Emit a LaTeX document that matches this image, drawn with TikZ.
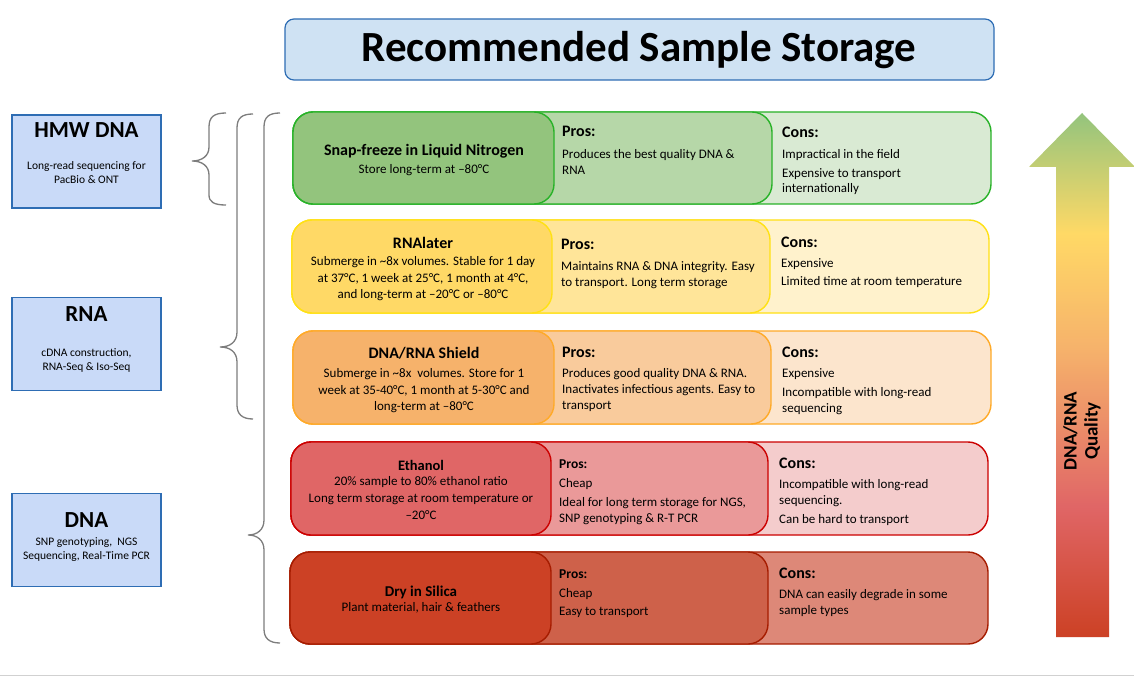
\documentclass[tikz,border=0pt]{standalone}
\usepackage{fontspec}
\setmainfont{Carlito}
\newcommand{\fsz}[2]{\fontsize{#1}{#2}\selectfont}
\definecolor{titlefill}{RGB}{207,226,243}
\definecolor{titledraw}{RGB}{46,109,180}
\definecolor{usefill}{RGB}{201,218,248}
\definecolor{usedraw}{RGB}{46,109,180}
\definecolor{bracegray}{RGB}{125,125,125}
% row 1 green
\definecolor{gL}{RGB}{147,196,125}
\definecolor{gP}{RGB}{182,215,168}
\definecolor{gC}{RGB}{217,234,211}
\definecolor{gB}{RGB}{40,178,40}
% row 2 yellow
\definecolor{yL}{RGB}{255,217,102}
\definecolor{yP}{RGB}{255,229,153}
\definecolor{yC}{RGB}{255,242,204}
\definecolor{yB}{RGB}{255,225,20}
% row 3 orange
\definecolor{oL}{RGB}{246,178,107}
\definecolor{oP}{RGB}{249,203,156}
\definecolor{oC}{RGB}{252,229,205}
\definecolor{oB}{RGB}{255,170,40}
% row 4 red
\definecolor{rL}{RGB}{224,102,102}
\definecolor{rP}{RGB}{234,153,153}
\definecolor{rC}{RGB}{244,204,204}
\definecolor{rB}{RGB}{204,0,0}
% row 5 dark red
\definecolor{dL}{RGB}{204,65,37}
\definecolor{dP}{RGB}{206,97,74}
\definecolor{dC}{RGB}{221,136,120}
\definecolor{dB}{RGB}{166,28,0}
\pgfdeclareverticalshading{qualityshade}{100bp}{%
  color(0bp)=(dL); color(25bp)=(dL); color(37.5bp)=(rL);
  color(52.5bp)=(oL); color(63.5bp)=(yL); color(75bp)=(gL); color(100bp)=(gL)}
\begin{document}
\begin{tikzpicture}[x=1pt,y=-1pt,
  rowbox/.style={line width=1.4pt, rounded corners=20pt, inner sep=0pt},
  usebox/.style={draw=usedraw, fill=usefill, line width=1.3pt, inner sep=0pt,
                 minimum width=149pt, minimum height=93pt},
  bodytxt/.style={inner sep=0pt, align=left, font=\fsz{13}{16}},
  ctrtxt/.style={inner sep=0pt, align=center, font=\fsz{13}{16.5}},
  headtxt/.style={inner sep=0pt, font=\fsz{16}{18}\bfseries},
  smallhead/.style={inner sep=0pt, font=\fsz{13.5}{16}\bfseries},
  usetxt/.style={inner sep=0pt, align=center, font=\fsz{11.5}{14}},
  usehead/.style={inner sep=0pt, font=\fsz{23}{25}\bfseries},
  bracestyle/.style={draw=bracegray, line width=1.3pt}]
\useasboundingbox (0,0) rectangle (1134,676);
\fill[white] (0,0) rectangle (1134,676);
\draw[black!18, line width=1pt] (0,675) -- (1134,675);

% title
\node[draw=titledraw, fill=titlefill, line width=1.2pt, rounded corners=9pt,
      minimum width=709pt, minimum height=61pt, inner sep=0pt] (title) at (639.5,49.5) {};
\node[inner sep=0pt, font=\fsz{43}{45}\bfseries] (titletxt) at (639,50) {Recommended Sample Storage};

% left use boxes
\node[usebox] (hmw) at (86.5,161.5) {};
\node[usehead, anchor=base] (hmwt) at (86.5,138) {HMW DNA};
\node[usetxt, anchor=base] (hmwb) at (86.5,184) {Long-read sequencing for\\PacBio \& ONT};
\node[usebox] (rna) at (86.5,344) {};
\node[usehead, anchor=base] (rnat) at (86.5,321) {RNA};
\node[usetxt, anchor=base] (rnab) at (86.5,370) {cDNA construction,\\RNA-Seq \& Iso-Seq};
\node[usebox] (dna) at (86.5,540) {};
\node[usehead, anchor=base] (dnat) at (86.5,527) {DNA};
\node[usetxt, anchor=base] (dnab) at (86.5,559) {SNP genotyping,~ NGS\\Sequencing, Real-Time PCR};

% braces
\draw[bracestyle] (226,113) .. controls (214,113) and (209,117) .. (209,127) -- (209,147)
  .. controls (209,156) and (202,161) .. (192,161)
  .. controls (202,161) and (209,166) .. (209,175) -- (209,195)
  .. controls (209,202) and (214,205) .. (226,205);
\draw[bracestyle] (253,114) .. controls (242,114) and (237,118) .. (237,128) -- (237,332)
  .. controls (237,342) and (230,347) .. (220,347)
  .. controls (230,347) and (237,352) .. (237,362) -- (237,405)
  .. controls (237,414) and (242,419) .. (253,419);
\draw[bracestyle] (280,113) .. controls (269,113) and (264,117) .. (264,127) -- (264,520)
  .. controls (264,530) and (257,535) .. (248,535)
  .. controls (257,535) and (264,540) .. (264,550) -- (264,629)
  .. controls (264,638) and (269,643) .. (280,643);

% row 1
\node[rowbox, fill=gC, draw=gB, minimum width=698pt, minimum height=92pt] (c1) at (642,158) {};
\node[rowbox, fill=gP, draw=gB, minimum width=479pt, minimum height=92pt] (p1) at (532.5,158) {};
\node[rowbox, fill=gL, draw=gB, minimum width=261pt, minimum height=92pt] (m1) at (423.5,158) {};
\node[headtxt, anchor=base] (m1t) at (424,156) {Snap-freeze in Liquid Nitrogen};
\node[ctrtxt, anchor=base] (m1b) at (424,173.5) {Store long-term at –80°C};
\node[headtxt, anchor=base west] (p1t) at (562,137) {Pros:};
\node[bodytxt, anchor=base west] (p1b) at (562,174.5) {Produces the best quality DNA \&\\RNA};
\node[headtxt, anchor=base west] (c1t) at (782,138) {Cons:};
\node[bodytxt, anchor=base west] (c1a) at (782,158.5) {Impractical in the field};
\node[bodytxt, anchor=base west, font=\fsz{13}{15}] (c1b) at (782,192.5) {Expensive to transport\\internationally};

% row 2
\node[rowbox, fill=yC, draw=yB, minimum width=697pt, minimum height=93pt] (c2) at (640.5,266.5) {};
\node[rowbox, fill=yP, draw=yB, minimum width=478pt, minimum height=93pt] (p2) at (531,266.5) {};
\node[rowbox, fill=yL, draw=yB, minimum width=260pt, minimum height=93pt] (m2) at (422,266.5) {};
\node[headtxt, anchor=base] (m2t) at (423,248.5) {RNAlater};
\node[ctrtxt, anchor=base] (m2b) at (423,298.5) {Submerge in \textasciitilde8x volumes. Stable for 1 day\\at 37°C, 1 week at 25°C, 1 month at 4°C,\\and long-term at –20°C or –80°C};
\node[headtxt, anchor=base west] (p2t) at (561,249.5) {Pros:};
\node[bodytxt, anchor=base west] (p2b) at (561,286.5) {Maintains RNA \& DNA integrity. Easy\\to transport. Long term storage};
\node[headtxt, anchor=base west] (c2t) at (781,247.5) {Cons:};
\node[bodytxt, anchor=base west] (c2a) at (781,267.5) {Expensive};
\node[bodytxt, anchor=base west] (c2b) at (781,285.5) {Limited time at room temperature};

% row 3
\node[rowbox, fill=oC, draw=oB, minimum width=698pt, minimum height=93pt] (c3) at (642,377.5) {};
\node[rowbox, fill=oP, draw=oB, minimum width=478pt, minimum height=93pt] (p3) at (532,377.5) {};
\node[rowbox, fill=oL, draw=oB, minimum width=261pt, minimum height=93pt] (m3) at (423.5,377.5) {};
\node[headtxt, anchor=base] (m3t) at (424,358) {DNA/RNA Shield};
\node[ctrtxt, anchor=base] (m3b) at (424,410.5) {Submerge in \textasciitilde8x~ volumes. Store for 1\\week at 35-40°C, 1 month at 5-30°C and\\long-term at –80°C};
\node[headtxt, anchor=base west] (p3t) at (562,357.5) {Pros:};
\node[bodytxt, anchor=base west] (p3b) at (562,409.5) {Produces good quality DNA \& RNA.\\Inactivates infectious agents. Easy to\\transport};
\node[headtxt, anchor=base west] (c3t) at (782,357.5) {Cons:};
\node[bodytxt, anchor=base west] (c3a) at (782,377.5) {Expensive};
\node[bodytxt, anchor=base west] (c3b) at (782,412.5) {Incompatible with long-read\\sequencing};

% row 4
\node[rowbox, fill=rC, draw=rB, minimum width=697pt, minimum height=93pt] (c4) at (639.5,488.5) {};
\node[rowbox, fill=rP, draw=rB, minimum width=477pt, minimum height=93pt] (p4) at (529.5,488.5) {};
\node[rowbox, fill=rL, draw=rB, minimum width=260pt, minimum height=93pt] (m4) at (421,488.5) {};
\node[inner sep=0pt, font=\fsz{14.5}{16}\bfseries, anchor=base] (m4t) at (421,470) {Ethanol};
\node[ctrtxt, anchor=base] (m4a) at (421,485.5) {20\% sample to 80\% ethanol ratio};
\node[ctrtxt, anchor=base] (m4b) at (421,519) {Long term storage at room temperature or\\–20°C};
\node[smallhead, anchor=base west] (p4t) at (559,468.5) {Pros:};
\node[bodytxt, anchor=base west] (p4a) at (559,487.5) {Cheap};
\node[bodytxt, anchor=base west, font=\fsz{13}{15.5}] (p4b) at (559,522) {Ideal for long term storage for NGS,\\SNP genotyping \& R-T PCR};
\node[headtxt, anchor=base west] (c4t) at (779,468.5) {Cons:};
\node[bodytxt, anchor=base west, font=\fsz{13}{15.5}] (c4a) at (779,504) {Incompatible with long-read\\sequencing.};
\node[bodytxt, anchor=base west] (c4b) at (779,523.5) {Can be hard to transport};

% row 5
\node[rowbox, fill=dC, draw=dB, minimum width=698pt, minimum height=92pt] (c5) at (639,598) {};
\node[rowbox, fill=dP, draw=dB, minimum width=478pt, minimum height=92pt] (p5) at (529,598) {};
\node[rowbox, fill=dL, draw=dB, minimum width=261pt, minimum height=92pt] (m5) at (420.5,598) {};
\node[inner sep=0pt, font=\fsz{15}{16}\bfseries, anchor=base] (m5t) at (421,596.5) {Dry in Silica};
\node[ctrtxt, anchor=base] (m5b) at (421,611.5) {Plant material, hair \& feathers};
\node[smallhead, anchor=base west] (p5t) at (559,578.5) {Pros:};
\node[bodytxt, anchor=base west] (p5a) at (559,597.5) {Cheap};
\node[bodytxt, anchor=base west] (p5b) at (559,615.5) {Easy to transport};
\node[headtxt, anchor=base west] (c5t) at (779,578.5) {Cons:};
\node[bodytxt, anchor=base west, font=\fsz{13}{15.5}] (c5a) at (779,614) {DNA can easily degrade in some\\sample types};

% quality arrow
\shade[shading=qualityshade] (1056,637) -- (1056,167) -- (1029,167) -- (1082,113)
  -- (1135,167) -- (1109,167) -- (1109,637) -- cycle;
\node[inner sep=0pt, rotate=90, align=center, font=\fsz{19}{21}\bfseries] (qual) at (1082,431) {DNA/RNA\\Quality};
\end{tikzpicture}
\end{document}
